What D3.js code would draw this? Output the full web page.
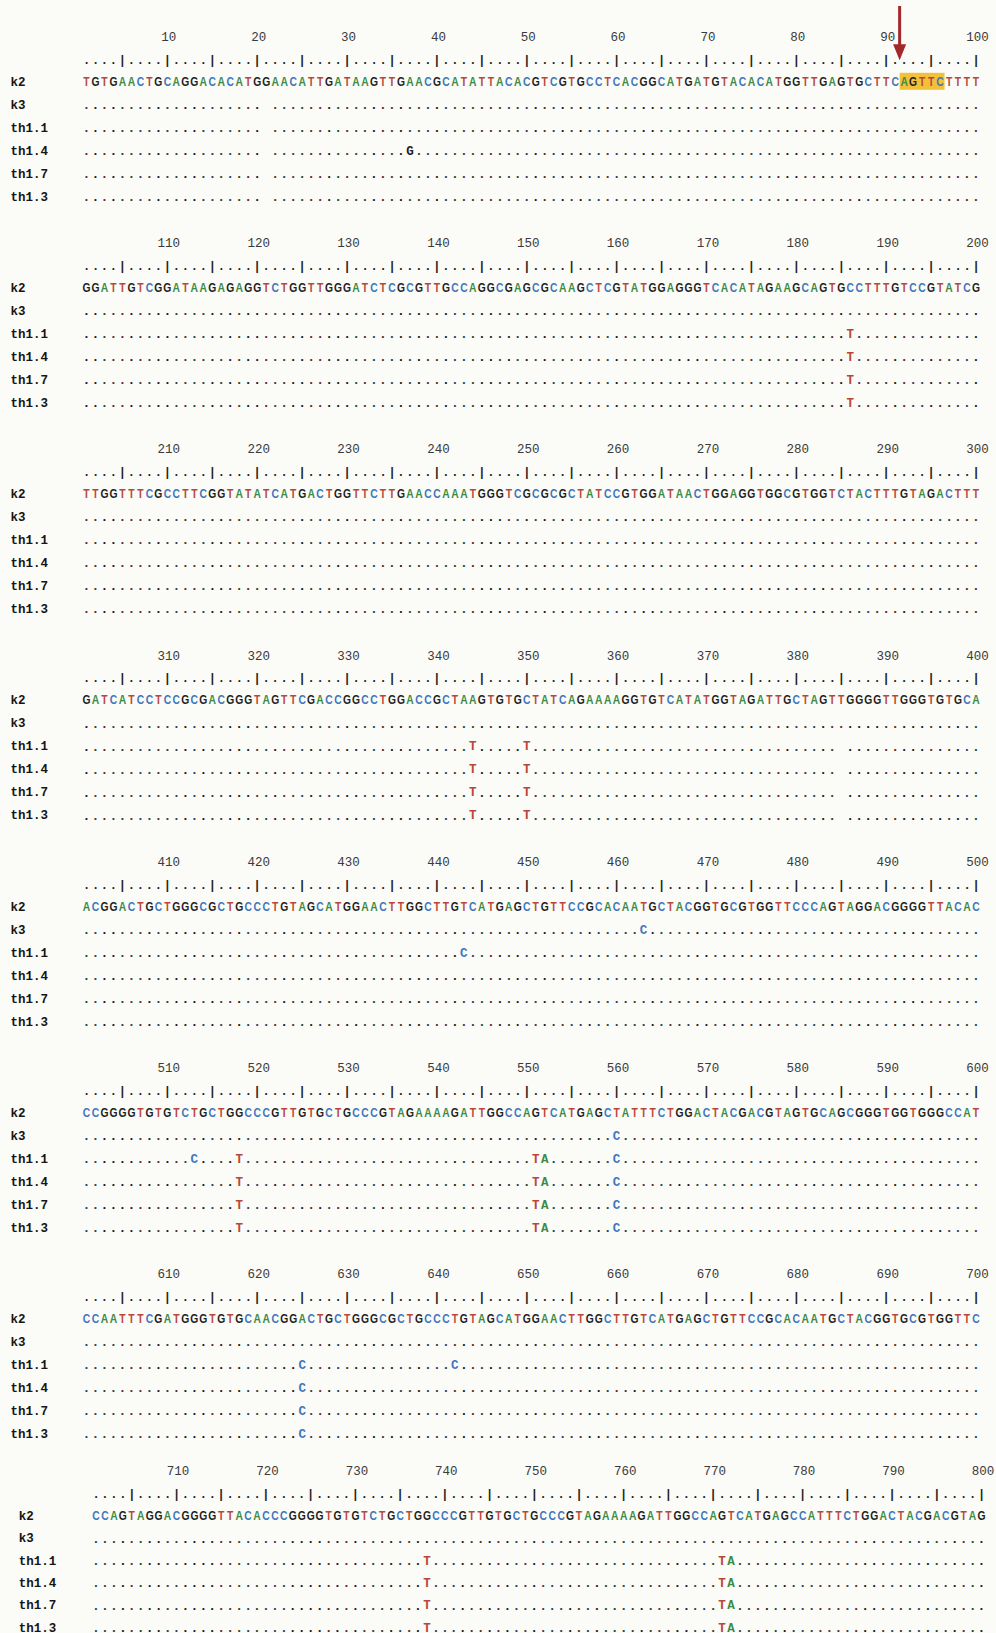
<!DOCTYPE html>
<html>
<head>
<meta charset="utf-8">
<script src="https://cdn.jsdelivr.net/npm/d3@7/dist/d3.min.js"></script>
<style>
  html, body { margin: 0; padding: 0; background: #fbfbf8; }
  svg { display: block; }
</style>
</head>
<body>
<script>
// Alignment blocks: first column number of each block and the reference (k2) sequence
const blockStarts = [1, 101, 201, 301, 401, 501, 601, 701];
const k2Blocks = [
  "TGTGAACTGCAGGACACATGGAACATTGATAAGTTGAACGCATATTACACGTCGTGCCTCACGGCATGATGTACACATGGTTGAGTGCTTCAGTTCTTTT",
  "GGATTGTCGGATAAGAGAGGTCTGGTTGGGATCTCGCGTTGCCAGGCGAGCGCAAGCTCGTATGGAGGGTCACATAGAAGCAGTGCCTTTGTCCGTATCG",
  "TTGGTTTCGCCTTCGGTATATCATGACTGGTTCTTGAACCAAATGGGTCGCGCGCTATCCGTGGATAACTGGAGGTGGCGTGGTCTACTTTGTAGACTTT",
  "GATCATCCTCCGCGACGGGTAGTTCGACCGGCCTGGACCGCTAAGTGTGCTATCAGAAAAGGTGTCATATGGTAGATTGCTAGTTGGGGTTGGGTGTGCA",
  "ACGGACTGCTGGGCGCTGCCCTGTAGCATGGAACTTGGCTTGTCATGAGCTGTTCCGCACAATGCTACGGTGCGTGGTTCCCAGTAGGACGGGGTTACAC",
  "CCGGGGTGTGTCTGCTGGCCCGTTGTGCTGCCCGTAGAAAAGATTGGCCAGTCATGAGCTATTTCTGGACTACGACGTAGTGCAGCGGGTGGTGGGCCAT",
  "CCAATTTCGATGGGTGTGCAACGGACTGCTGGGCGCTGCCCTGTAGCATGGAACTTGGCTTGTCATGAGCTGTTCCGCACAATGCTACGGTGCGTGGTTC",
  "CCAGTAGGACGGGGTTACACCCGGGGTGTGTCTGCTGGCCCGTTGTGCTGCCCGTAGAAAAGATTGGCCAGTCATGAGCCATTTCTGGACTACGACGTAG"
];
const sampleNames = ["k2", "k3", "th1.1", "th1.4", "th1.7", "th1.3"];

// Differences from k2: sample, alignment column, base
const varSample = ["th1.4",
  "th1.1", "th1.4", "th1.7", "th1.3",
  "th1.1", "th1.4", "th1.7", "th1.3",
  "th1.1", "th1.4", "th1.7", "th1.3",
  "th1.1", "k3",
  "k3", "th1.1", "th1.1", "th1.1", "th1.1", "th1.1",
  "th1.4", "th1.4", "th1.4", "th1.4",
  "th1.7", "th1.7", "th1.7", "th1.7",
  "th1.3", "th1.3", "th1.3", "th1.3",
  "th1.1", "th1.1", "th1.4", "th1.7", "th1.3",
  "th1.1", "th1.1", "th1.1", "th1.4", "th1.4", "th1.4",
  "th1.7", "th1.7", "th1.7", "th1.3", "th1.3", "th1.3"];
const varPos = [37,
  186, 186, 186, 186,
  344, 344, 344, 344,
  350, 350, 350, 350,
  443, 463,
  560, 513, 518, 551, 552, 560,
  518, 551, 552, 560,
  518, 551, 552, 560,
  518, 551, 552, 560,
  625, 642, 625, 625, 625,
  738, 771, 772, 738, 771, 772,
  738, 771, 772, 738, 771, 772];
const varBase = ["G",
  "T", "T", "T", "T",
  "T", "T", "T", "T",
  "T", "T", "T", "T",
  "C", "C",
  "C", "C", "T", "T", "A", "C",
  "T", "T", "A", "C",
  "T", "T", "A", "C",
  "T", "T", "A", "C",
  "C", "C", "C", "C", "C",
  "T", "T", "A", "T", "T", "A",
  "T", "T", "A", "T", "T", "A"];

// Blank columns in the identity rows
const gapSample = ["k3", "th1.1", "th1.4", "th1.7", "th1.3", "th1.1", "th1.4", "th1.7", "th1.3"];
const gapPos = [21, 21, 21, 21, 21, 385, 385, 385, 385];

// Marked motif and arrow in the first block
const motifStart = 92, motifEnd = 96;

const baseColor = { A: "#3b8a45", C: "#3f76bd", G: "#1e1e1e", T: "#b8473a" };

const W = 996, H = 1633;
const svg = d3.select("body").append("svg").attr("width", W).attr("height", H);
svg.append("rect").attr("width", W).attr("height", H).attr("fill", "#fbfbf8");

// Layout scales
const lastBlock = blockStarts.length - 1;
const blockY = d3.scaleLinear().domain([0, 6, 7]).range([81.3, 1318.9, 1515.8]);
const rowStep = b => (b === lastBlock ? 22.3 : 23);
const colX = b => b === lastBlock
  ? d3.scaleLinear().domain([1, 100]).range([96, 981.5])
  : d3.scaleLinear().domain([1, 100]).range([86.5, 976]);
const labelX = b => (b === lastBlock ? 18.8 : 10.4);

const mono = "'Liberation Mono', 'DejaVu Sans Mono', monospace";
const sans = "'Liberation Sans', Arial, sans-serif";

const varMap = new Map();
varPos.forEach((p, i) => varMap.set(varSample[i] + "|" + p, varBase[i]));
const gapSet = new Set(gapPos.map((p, i) => gapSample[i] + "|" + p));

const cols = d3.range(1, 101);

blockStarts.forEach((start, b) => {
  const x = colX(b);
  const y0 = blockY(b);
  const step = rowStep(b);
  const g = svg.append("g");
  const seq = k2Blocks[b];

  // Column numbers
  g.selectAll("text.num")
    .data(cols.filter(c => c % 10 === 0))
    .join("text")
    .attr("x", c => x(c) + 1.5)
    .attr("y", y0 - 44.8)
    .attr("dy", "0.35em")
    .attr("text-anchor", "middle")
    .attr("font-family", mono)
    .attr("font-size", 12.5)
    .attr("fill", "#3a3a3a")
    .text(c => start - 1 + c);

  // Ruler
  g.selectAll("text.rule")
    .data(cols)
    .join("text")
    .attr("x", c => x(c))
    .attr("y", y0 - 21.9)
    .attr("dy", "0.35em")
    .attr("text-anchor", "middle")
    .attr("font-family", mono)
    .attr("font-size", 12)
    .attr("font-weight", "bold")
    .attr("fill", "#222")
    .text(c => (c % 5 === 0 ? "|" : "."));

  // Highlighted motif
  if (start <= motifStart && start + 99 >= motifEnd) {
    const pitch = x(2) - x(1);
    g.append("rect")
      .attr("x", x(motifStart - start + 1) - pitch / 2)
      .attr("width", x(motifEnd - start + 1) - x(motifStart - start + 1) + pitch)
      .attr("y", y0 - 8.5)
      .attr("height", 17)
      .attr("fill", "#f3c03a");
    const ax = x(motifStart - start + 1) - pitch / 2;
    g.append("line")
      .attr("x1", ax).attr("x2", ax)
      .attr("y1", 6).attr("y2", y0 - 36)
      .attr("stroke", "#a3282b").attr("stroke-width", 3);
    g.append("path")
      .attr("d", d3.line()([[ax - 6.5, y0 - 37], [ax + 6.5, y0 - 37], [ax, y0 - 21]]) + "Z")
      .attr("fill", "#a3282b");
  }

  sampleNames.forEach((name, r) => {
    const y = y0 + r * step;
    g.append("text")
      .attr("x", labelX(b))
      .attr("y", y)
      .attr("dy", "0.35em")
      .attr("font-family", mono)
      .attr("font-size", 12.5)
      .attr("font-weight", "bold")
      .attr("fill", "#151515")
      .text(name);

    if (r === 0) {
      g.selectAll(null)
        .data(cols)
        .join("text")
        .attr("transform", c => `translate(${x(c)},${y}) scale(0.86,1)`)
        .attr("dy", "0.36em")
        .attr("text-anchor", "middle")
        .attr("font-family", sans)
        .attr("font-size", 12)
        .attr("font-weight", "bold")
        .attr("fill", c => baseColor[seq[c - 1]])
        .text(c => seq[c - 1]);
    } else {
      const cells = cols.filter(c => !gapSet.has(name + "|" + (start - 1 + c)));
      g.selectAll(null)
        .data(cells)
        .join("text")
        .attr("x", c => x(c))
        .attr("y", y)
        .attr("dy", "0.35em")
        .attr("text-anchor", "middle")
        .attr("font-family", mono)
        .attr("font-weight", "bold")
        .each(function (c) {
          const v = varMap.get(name + "|" + (start - 1 + c));
          const el = d3.select(this);
          if (v) {
            el.attr("font-size", 12.5).attr("fill", baseColor[v]).text(v);
          } else {
            el.attr("font-size", 13)
              .attr("fill", d3.interpolateRgb(baseColor[seq[c - 1]], "#1a1a1a")(0.6))
              .text(".");
          }
        });
    }
  });
});
</script>
</body>
</html>
